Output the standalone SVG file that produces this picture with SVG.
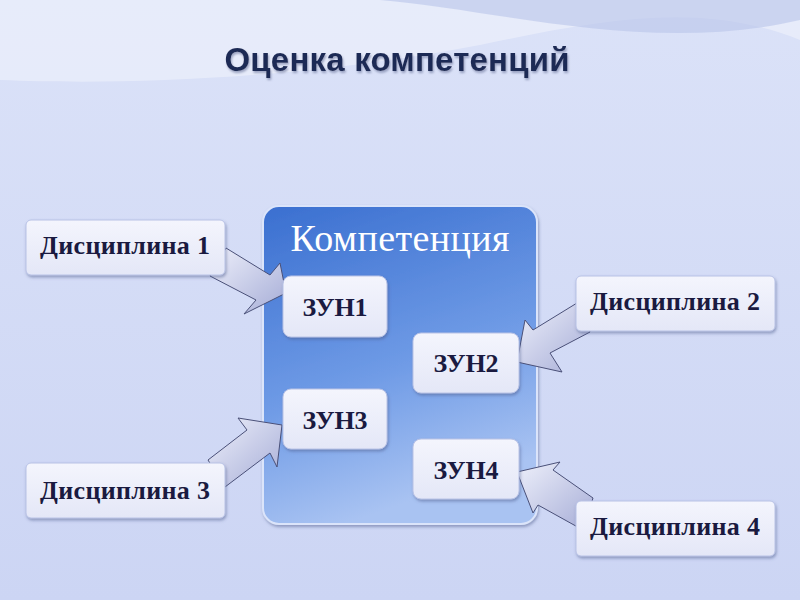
<svg xmlns="http://www.w3.org/2000/svg" width="800" height="600" viewBox="0 0 800 600">
<defs>
<linearGradient id="bg" x1="0" y1="0" x2="0" y2="1"><stop offset="0" stop-color="#dbe2f8"/><stop offset="1" stop-color="#ccd5f4"/></linearGradient>
<linearGradient id="comp" x1="0" y1="0" x2="0.3" y2="1"><stop offset="0" stop-color="#3a6fd0"/><stop offset="0.6" stop-color="#6f9be6"/><stop offset="1" stop-color="#a9c3f2"/></linearGradient>
<linearGradient id="box" x1="0" y1="0" x2="0" y2="1"><stop offset="0" stop-color="#f4f5fd"/><stop offset="1" stop-color="#e4e7f7"/></linearGradient>
<linearGradient id="arr" x1="0" y1="0" x2="1" y2="1"><stop offset="0" stop-color="#eef0fb"/><stop offset="1" stop-color="#a5acd6"/></linearGradient>
<filter id="sh" x="-20%" y="-20%" width="140%" height="140%"><feDropShadow dx="1" dy="2" stdDeviation="1.5" flood-color="#4a5a8a" flood-opacity="0.5"/></filter>
<filter id="ts" x="-10%" y="-30%" width="120%" height="160%"><feDropShadow dx="1" dy="2" stdDeviation="1" flood-color="#7a84a8" flood-opacity="0.7"/></filter>
</defs>
<style>
.b{fill:url(#box);stroke:#b8c2e6;stroke-width:1;filter:url(#sh)}
.t{font-family:"Liberation Serif",serif;font-weight:bold;font-size:26px;fill:#1a1a40;text-anchor:middle}
.a{fill:url(#arr);stroke:#4a5078;stroke-width:1}
</style>
<rect width="800" height="600" fill="url(#bg)"/>
<path d="M0,0 H800 V40 C700,0 600,20 480,45 C300,80 120,85 0,80 Z" fill="#ffffff" opacity="0.35"/>
<path d="M380,0 C500,10 650,55 800,20 V0 Z" fill="#b9c4ea" opacity="0.6"/>
<text x="397" y="71" font-family="Liberation Sans, sans-serif" font-weight="bold" font-size="33" fill="#1f2c55" text-anchor="middle" textLength="345" filter="url(#ts)">Оценка компетенций</text>
<g id="competence">
<rect x="263" y="206" width="274" height="318" rx="16" fill="url(#comp)" stroke="#dbe4fa" stroke-width="2" filter="url(#sh)"/>
<text x="400" y="251" font-family="Liberation Serif, serif" font-size="38" fill="#ffffff" text-anchor="middle" textLength="219">Компетенция</text>
</g>
<g id="connectors">
<polygon class="a" points="226,248 270,275 280,263 286,293 244,314 256,300 210,276"/>
<polygon class="a" points="577,303 533,330 525,320 517,362 562,372 550,353 590,332"/>
<polygon class="a" points="208,460 247,430 238,418 282,425 277,467 270,453 225,487"/>
<polygon class="a" points="593,498 553,470 560,462 517,472 533,513 538,505 583,530"/>
</g>
<g id="d1"><rect class="b" x="26" y="220" width="199" height="55" rx="5"/><text class="t" x="125" y="254" textLength="170">Дисциплина 1</text></g>
<g id="d2"><rect class="b" x="576" y="276" width="199" height="55" rx="5"/><text class="t" x="675" y="310" textLength="170">Дисциплина 2</text></g>
<g id="d3"><rect class="b" x="26" y="463" width="199" height="55" rx="5"/><text class="t" x="125" y="499" textLength="170">Дисциплина 3</text></g>
<g id="d4"><rect class="b" x="576" y="501" width="199" height="55" rx="5"/><text class="t" x="675" y="535" textLength="170">Дисциплина 4</text></g>
<g id="z1"><rect class="b" x="283" y="276" width="104" height="61" rx="8"/><text class="t" x="335" y="316" textLength="65">ЗУН1</text></g>
<g id="z2"><rect class="b" x="413" y="333" width="106" height="60" rx="8"/><text class="t" x="466" y="372" textLength="65">ЗУН2</text></g>
<g id="z3"><rect class="b" x="283" y="389" width="104" height="60" rx="8"/><text class="t" x="335" y="429" textLength="65">ЗУН3</text></g>
<g id="z4"><rect class="b" x="413" y="439" width="106" height="60" rx="8"/><text class="t" x="466" y="479" textLength="65">ЗУН4</text></g>
</svg>
